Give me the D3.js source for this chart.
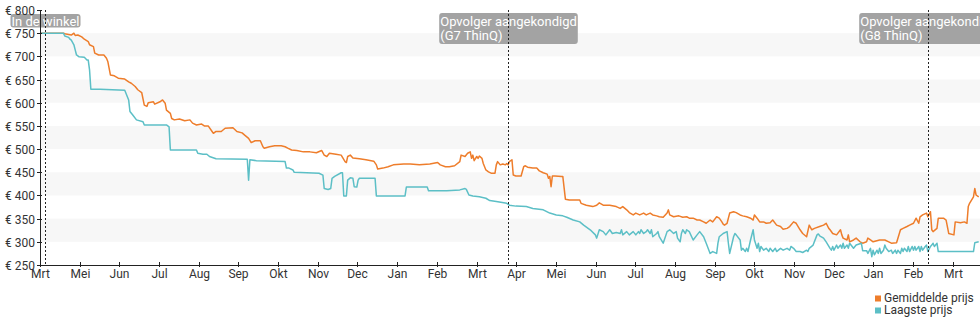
<!DOCTYPE html>
<html><head><meta charset="utf-8">
<script src="https://cdnjs.cloudflare.com/ajax/libs/d3/7.8.5/d3.min.js"></script>
<style>
body{margin:0;background:#fff;}
svg{display:block;font-family:Roboto,"Noto Sans",sans-serif;}
</style>
</head><body>
<svg id="chart" width="980" height="325"></svg>
<script>
// ---------- DATA ----------
const seriesNames = ["Gemiddelde prijs", "Laagste prijs"];
const seriesColors = ["#ee7d2b", "#5cbfc6"];

const avgPrice = [
["2017-03-31",750],["2017-04-18",750],["2017-04-20",748],["2017-04-24",746],["2017-04-26",750],["2017-04-27",745],["2017-04-29",746],
["2017-05-02",742],["2017-05-04",737],["2017-05-07",732],["2017-05-08",725],["2017-05-11",721],["2017-05-12",707],["2017-05-15",703],
["2017-05-19",703],["2017-05-21",696],["2017-05-22",689],["2017-05-24",660],["2017-05-27",658],["2017-05-30",653],["2017-06-04",651],
["2017-06-07",645],["2017-06-09",642],["2017-06-12",635],["2017-06-14",628],["2017-06-17",622],["2017-06-19",595],["2017-06-21",592],
["2017-06-22",600],["2017-06-26",602],["2017-06-27",597],["2017-07-01",602],["2017-07-03",606],["2017-07-05",599],["2017-07-06",584],
["2017-07-09",577],["2017-07-10",566],["2017-07-12",563],["2017-07-16",565],["2017-07-20",561],["2017-07-24",563],["2017-07-26",556],
["2017-07-29",552],["2017-08-02",554],["2017-08-04",550],["2017-08-07",550],["2017-08-10",538],["2017-08-11",534],["2017-08-13",538],
["2017-08-17",538],["2017-08-20",545],["2017-08-26",546],["2017-08-29",538],["2017-09-02",535],["2017-09-04",530],["2017-09-07",523],
["2017-09-09",514],["2017-09-12",518],["2017-09-16",518],["2017-09-18",505],["2017-09-19",502],["2017-09-23",505],["2017-09-27",507],
["2017-10-02",507],["2017-10-05",505],["2017-10-07",502],["2017-10-10",498],["2017-10-14",497],["2017-10-19",494],["2017-10-24",494],
["2017-10-29",492],["2017-11-02",497],["2017-11-04",487],["2017-11-06",484],["2017-11-08",491],["2017-11-13",489],["2017-11-17",487],
["2017-11-20",473],["2017-11-21",471],["2017-11-22",484],["2017-11-24",487],["2017-11-26",481],["2017-12-01",479],["2017-12-06",477],
["2017-12-12",474],["2017-12-14",466],["2017-12-15",457],["2017-12-19",459],["2017-12-23",462],["2017-12-27",466],["2018-01-04",468],
["2018-01-09",468],["2018-01-16",466],["2018-01-24",468],["2018-01-30",471],["2018-02-01",466],["2018-02-05",462],["2018-02-08",462],
["2018-02-12",464],["2018-02-16",473],["2018-02-17",487],["2018-02-20",484],["2018-02-22",491],["2018-02-24",494],["2018-02-25",480],
["2018-02-26",487],["2018-02-27",475],["2018-03-01",484],["2018-03-02",480],["2018-03-03",485],["2018-03-05",480],["2018-03-06",469],
["2018-03-08",455],["2018-03-10",451],["2018-03-12",448],["2018-03-15",448],["2018-03-16",466],["2018-03-17",473],["2018-03-19",466],
["2018-03-21",468],["2018-03-23",466],["2018-03-24",469],["2018-03-25",466],["2018-03-26",473],["2018-03-28",477],["2018-03-29",444],
["2018-03-31",442],["2018-04-04",442],["2018-04-06",462],["2018-04-07",464],["2018-04-09",461],["2018-04-13",459],["2018-04-16",459],
["2018-04-18",453],["2018-04-21",449],["2018-04-24",446],["2018-04-25",437],["2018-04-26",441],["2018-04-27",419],["2018-04-28",442],
["2018-04-30",442],["2018-05-05",441],["2018-05-06",441],["2018-05-08",392],["2018-05-11",390],["2018-05-19",390],["2018-05-20",383],
["2018-05-24",379],["2018-05-29",376],["2018-06-01",379],["2018-06-03",384],["2018-06-06",379],["2018-06-11",379],["2018-06-16",376],
["2018-06-19",372],["2018-06-21",376],["2018-06-24",369],["2018-06-26",363],["2018-06-29",358],["2018-07-01",362],["2018-07-04",358],
["2018-07-07",362],["2018-07-09",358],["2018-07-12",362],["2018-07-14",358],["2018-07-17",356],["2018-07-19",354],["2018-07-22",353],
["2018-07-25",362],["2018-07-26",369],["2018-07-27",358],["2018-07-30",354],["2018-08-03",356],["2018-08-06",353],["2018-08-09",354],
["2018-08-11",351],["2018-08-14",351],["2018-08-17",347],["2018-08-19",347],["2018-08-22",343],["2018-08-24",340],["2018-08-27",347],
["2018-08-29",343],["2018-09-01",354],["2018-09-03",351],["2018-09-05",343],["2018-09-06",338],["2018-09-07",336],["2018-09-09",340],
["2018-09-11",362],["2018-09-14",365],["2018-09-16",363],["2018-09-19",358],["2018-09-21",356],["2018-09-24",354],["2018-09-27",351],
["2018-09-29",347],["2018-09-30",358],["2018-10-02",351],["2018-10-04",343],["2018-10-07",343],["2018-10-09",340],["2018-10-12",341],
["2018-10-14",347],["2018-10-17",336],["2018-10-20",333],["2018-10-22",327],["2018-10-25",329],["2018-10-27",333],["2018-10-30",343],
["2018-11-01",340],["2018-11-04",326],["2018-11-06",318],["2018-11-09",311],["2018-11-11",336],["2018-11-13",326],["2018-11-15",329],
["2018-11-19",333],["2018-11-22",336],["2018-11-24",340],["2018-11-26",329],["2018-11-27",326],["2018-11-29",318],["2018-12-02",315],
["2018-12-05",326],["2018-12-06",315],["2018-12-07",308],["2018-12-10",304],["2018-12-11",315],["2018-12-12",300],["2018-12-15",304],
["2018-12-17",308],["2018-12-20",300],["2018-12-22",297],["2018-12-25",300],["2018-12-26",308],["2018-12-28",304],["2018-12-30",300],
["2019-01-04",304],["2019-01-08",304],["2019-01-11",300],["2019-01-13",297],["2019-01-17",298],["2019-01-20",326],["2019-01-22",329],
["2019-01-25",333],["2019-01-27",336],["2019-01-30",340],["2019-02-01",351],["2019-02-03",340],["2019-02-04",354],["2019-02-06",358],
["2019-02-09",362],["2019-02-10",354],["2019-02-12",365],["2019-02-13",326],["2019-02-14",322],["2019-02-17",329],["2019-02-18",351],
["2019-02-22",351],["2019-02-24",347],["2019-02-26",318],["2019-03-02",315],["2019-03-03",343],["2019-03-07",341],["2019-03-10",343],
["2019-03-12",340],["2019-03-13",376],["2019-03-14",383],["2019-03-17",397],["2019-03-18",415],["2019-03-19",401],["2019-03-21",397]
];

const lowPrice = [
["2017-03-31",750],["2017-04-18",750],["2017-04-19",744],["2017-04-22",741],["2017-04-23",737],["2017-04-24",735],["2017-04-26",725],
["2017-04-27",714],["2017-04-28",703],["2017-04-30",699],["2017-05-04",698],["2017-05-06",692],["2017-05-07",692],["2017-05-08",671],
["2017-05-09",629],["2017-05-16",629],["2017-06-04",627],["2017-06-05",620],["2017-06-07",606],["2017-06-08",581],["2017-06-10",574],
["2017-06-13",563],["2017-06-18",559],["2017-06-19",552],["2017-07-06",552],["2017-07-08",548],["2017-07-09",498],["2017-07-29",498],
["2017-07-30",491],["2017-08-03",489],["2017-08-06",489],["2017-08-08",484],["2017-08-13",479],["2017-09-06",478],["2017-09-07",433],
["2017-09-08",477],["2017-09-13",475],["2017-10-05",473],["2017-10-06",459],["2017-10-08",459],["2017-10-11",455],["2017-10-12",450],
["2017-10-31",448],["2017-11-03",444],["2017-11-04",415],["2017-11-07",413],["2017-11-09",415],["2017-11-10",437],["2017-11-12",441],
["2017-11-17",449],["2017-11-18",449],["2017-11-19",399],["2017-11-21",399],["2017-11-22",433],["2017-11-24",438],["2017-11-26",437],
["2017-11-27",419],["2017-11-29",418],["2017-11-30",433],["2017-12-01",437],["2017-12-13",437],["2017-12-14",399],["2018-01-05",399],
["2018-01-06",418],["2018-01-22",418],["2018-01-23",410],["2018-02-06",410],["2018-02-16",412],["2018-02-20",415],["2018-02-21",413],
["2018-02-23",401],["2018-02-26",399],["2018-03-03",397],["2018-03-08",394],["2018-03-11",389],["2018-03-16",387],["2018-03-24",383],
["2018-03-26",379],["2018-03-31",377],["2018-04-08",376],["2018-04-13",372],["2018-04-21",369],["2018-04-26",362],["2018-05-01",358],
["2018-05-06",356],["2018-05-09",353],["2018-05-14",347],["2018-05-19",343],["2018-05-22",336],["2018-05-27",326],["2018-05-31",315],
["2018-06-01",308],["2018-06-03",326],["2018-06-06",322],["2018-06-08",315],["2018-06-11",326],["2018-06-13",318],["2018-06-16",320],
["2018-06-19",318],["2018-06-20",326],["2018-06-21",315],["2018-06-24",322],["2018-06-26",315],["2018-06-29",322],["2018-07-01",315],
["2018-07-03",322],["2018-07-04",318],["2018-07-05",326],["2018-07-07",318],["2018-07-09",322],["2018-07-10",326],["2018-07-12",318],
["2018-07-13",326],["2018-07-14",311],["2018-07-17",318],["2018-07-18",322],["2018-07-19",311],["2018-07-22",297],["2018-07-25",322],
["2018-07-27",326],["2018-07-30",318],["2018-08-01",322],["2018-08-02",308],["2018-08-04",300],["2018-08-05",318],["2018-08-06",326],
["2018-08-08",318],["2018-08-09",326],["2018-08-11",322],["2018-08-14",304],["2018-08-17",315],["2018-08-19",322],["2018-08-22",311],
["2018-08-24",297],["2018-08-27",275],["2018-08-29",279],["2018-09-01",275],["2018-09-02",297],["2018-09-03",311],["2018-09-06",318],
["2018-09-09",322],["2018-09-10",297],["2018-09-11",275],["2018-09-14",311],["2018-09-15",318],["2018-09-16",315],["2018-09-19",304],
["2018-09-20",282],["2018-09-21",286],["2018-09-23",279],["2018-09-24",286],["2018-09-25",279],["2018-09-27",304],["2018-09-29",326],
["2018-09-30",304],["2018-10-02",286],["2018-10-03",297],["2018-10-04",279],["2018-10-05",290],["2018-10-07",282],["2018-10-09",286],
["2018-10-11",279],["2018-10-12",286],["2018-10-14",279],["2018-10-16",286],["2018-10-17",279],["2018-10-20",286],["2018-10-22",282],
["2018-10-25",286],["2018-10-27",282],["2018-10-28",290],["2018-10-30",286],["2018-11-01",279],["2018-11-04",279],["2018-11-06",277],
["2018-11-09",282],["2018-11-10",279],["2018-11-11",286],["2018-11-14",293],["2018-11-17",315],["2018-11-18",317],["2018-11-19",313],
["2018-11-22",308],["2018-11-24",300],["2018-11-27",286],["2018-11-28",282],["2018-11-29",290],["2018-11-30",282],["2018-12-02",293],
["2018-12-03",286],["2018-12-05",293],["2018-12-06",286],["2018-12-07",297],["2018-12-08",286],["2018-12-10",293],["2018-12-11",286],
["2018-12-12",297],["2018-12-15",286],["2018-12-17",293],["2018-12-21",297],["2018-12-22",281],["2018-12-25",281],["2018-12-26",275],
["2018-12-28",286],["2018-12-29",268],["2018-12-30",282],["2018-12-31",272],["2019-01-02",282],["2019-01-03",275],["2019-01-04",286],
["2019-01-05",275],["2019-01-07",282],["2019-01-08",293],["2019-01-09",286],["2019-01-11",279],["2019-01-13",282],["2019-01-14",275],
["2019-01-16",282],["2019-01-17",275],["2019-01-18",282],["2019-01-20",275],["2019-01-21",286],["2019-01-22",279],["2019-01-23",286],
["2019-01-25",279],["2019-01-26",290],["2019-01-27",279],["2019-01-29",290],["2019-01-30",282],["2019-01-31",290],["2019-02-01",282],
["2019-02-03",290],["2019-02-04",279],["2019-02-05",290],["2019-02-06",282],["2019-02-08",290],["2019-02-09",293],["2019-02-10",279],
["2019-02-12",290],["2019-02-13",293],["2019-02-14",297],["2019-02-15",290],["2019-02-17",297],["2019-02-18",279],["2019-03-17",279],
["2019-03-18",298],["2019-03-21",300]
];

const xDomain = ["2017-03-31", "2019-03-22"];
const xTickLabels = ["Mrt","Mei","Jun","Jul","Aug","Sep","Okt","Nov","Dec","Jan","Feb","Mrt",
                     "Apr","Mei","Jun","Jul","Aug","Sep","Okt","Nov","Dec","Jan","Feb","Mrt"];
const yTicks = [250,300,350,400,450,500,550,600,650,700,750,800];
const yBands = [300,400,500,600,700];

const annotationDates = ["2017-04-04", "2018-03-25", "2019-02-10"];
const annotationTexts = [["In de winkel"], ["Opvolger aangekondigd","(G7 ThinQ)"], ["Opvolger aangekondigd","(G8 ThinQ)"]];

// ---------- CHART ----------
(function () {
const parse = d3.timeParse("%Y-%m-%d");
const svg = d3.select("#chart");
const pL = 40, pR = 980, pT = 10, pB = 265;

const x = d3.scaleTime().domain(xDomain.map(parse)).range([pL, pR]);
const y = d3.scaleLinear().domain([250, 800]).range([pB, pT]);

// bands
svg.append("g").selectAll("rect").data(yBands).join("rect")
  .attr("x", pL).attr("width", pR - pL)
  .attr("y", d => y(d + 50)).attr("height", d => y(d) - y(d + 50))
  .attr("fill", "#f7f7f7");

// lines
const line = d3.line().x(d => x(parse(d[0]))).y(d => y(d[1]));
[avgPrice, lowPrice].forEach((s, i) => {
  svg.append("path").datum(s).attr("d", line)
    .attr("fill", "none").attr("stroke", seriesColors[i])
    .attr("stroke-width", 1.5).attr("stroke-linejoin", "round");
});

// annotations
const ann = svg.append("g").attr("font-size", 13);
annotationDates.forEach((ds, i) => {
  const ax = Math.round(x(parse(ds))) + 0.5;
  const g = ann.append("g");
  const lines = annotationTexts[i];
  const rect = g.append("rect").attr("rx", 3).attr("ry", 3).attr("fill", "#a3a3a3");
  let maxW = 0;
  const texts = lines.map((t, j) => {
    const tx = g.append("text").attr("y", 26 + j * 14).attr("fill", "#fff").text(t);
    maxW = Math.max(maxW, tx.node().getComputedTextLength());
    return tx;
  });
  const bx = ax - maxW / 2 - 1;
  texts.forEach(tx => tx.attr("x", bx + 1));
  const h = lines.length === 1 ? 13.5 : 31;
  rect.attr("x", bx).attr("y", lines.length === 1 ? 14 : 13).attr("width", maxW + 2).attr("height", h);
  svg.append("line").attr("x1", ax).attr("x2", ax).attr("y1", pT).attr("y2", pB)
    .attr("stroke", "#222").attr("stroke-width", 1).attr("stroke-dasharray", "2,2");
});

// y axis
const yAxis = svg.append("g").attr("font-size", 12).attr("fill", "#333");
yAxis.append("line").attr("x1", pL + 0.5).attr("x2", pL + 0.5).attr("y1", pT).attr("y2", pB)
  .attr("stroke", "#222");
yTicks.forEach(v => {
  const yy = Math.round(y(v)) + 0.5;
  yAxis.append("line").attr("x1", pL - 3).attr("x2", pL + 2).attr("y1", yy).attr("y2", yy).attr("stroke", "#222");
  yAxis.append("text").attr("x", pL - 5).attr("y", yy).attr("dy", "0.35em")
    .attr("text-anchor", "end").text("€ " + v);
});

// x axis
const start = parse(xDomain[0]);
const monthMs = 365.25 / 12 * 864e5;
const xAxis = svg.append("g").attr("font-size", 12).attr("fill", "#333");
xAxis.append("line").attr("x1", pL).attr("x2", pR).attr("y1", pB + 0.5).attr("y2", pB + 0.5)
  .attr("stroke", "#222");
xTickLabels.forEach((lab, i) => {
  const xx = Math.round(x(new Date(start.getTime() + i * monthMs))) + 0.5;
  xAxis.append("line").attr("x1", xx).attr("x2", xx).attr("y1", pB - 3).attr("y2", pB + 2).attr("stroke", "#222");
  xAxis.append("text").attr("x", xx).attr("y", pB + 12.5).attr("text-anchor", "middle").text(lab);
});

// legend
const leg = svg.append("g").attr("font-size", 12).attr("fill", "#333");
seriesNames.forEach((n, i) => {
  const ly = 301.5 + i * 12;
  leg.append("rect").attr("x", 875).attr("y", ly - 6).attr("width", 6).attr("height", 6).attr("fill", seriesColors[i]);
  leg.append("text").attr("x", 884).attr("y", ly).text(n);
});
})();
</script>
</body></html>
